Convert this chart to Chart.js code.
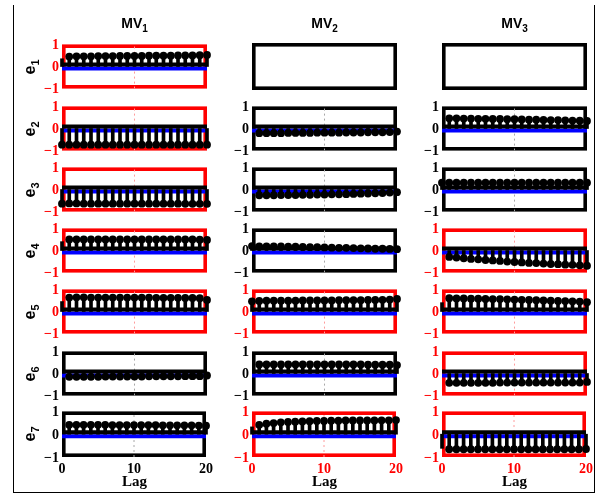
<!DOCTYPE html>
<html>
<head>
<meta charset="utf-8">
<script src="https://cdn.jsdelivr.net/npm/chart.js@4.4.0/dist/chart.umd.min.js"></script>
<style>
  body { margin: 0; background: #fff; }
  #fig { position: relative; width: 602px; height: 495px; overflow: hidden; background: #fff; }
  #fig canvas { position: absolute; }
  .frame { position: absolute; left: 13px; top: 5px; width: 580px; height: 487px;
           border: 1px solid #000; border-top: none; }
  .title { position: absolute; top: 15px; font: bold 14px 'Liberation Sans', Arial, sans-serif;
           transform: translateX(-50%); white-space: nowrap; }
  .title sub { font-size: 10px; }
  .rowlab sub { font-size: 11px; }
  .rowlab { position: absolute; font: bold 16px 'Liberation Sans', Arial, sans-serif;
            transform: translate(-50%, -50%) rotate(-90deg); white-space: nowrap; }
  .lag { position: absolute; top: 473px; font: bold 15px 'Liberation Serif', 'Times New Roman', serif;
         transform: translateX(-50%); }
</style>
</head>
<body>
<div id="fig"><div class="frame"></div></div>
<script>
// lags 1..20 of each cross-correlation series (rows e1..e7, columns MV1..MV3)
const lags = [1, 2, 3, 4, 5, 6, 7, 8, 9, 10, 11, 12, 13, 14, 15, 16, 17, 18, 19, 20];
const outputs = ['1', '2', '3', '4', '5', '6', '7'];
const inputs = ['1', '2', '3'];

const e1_mv1 = [0.45, 0.46, 0.46, 0.46, 0.47, 0.47, 0.47, 0.48, 0.48, 0.48, 0.48, 0.49, 0.49, 0.49, 0.49, 0.50, 0.50, 0.50, 0.51, 0.52];
const e2_mv1 = [-0.73, -0.73, -0.73, -0.73, -0.73, -0.73, -0.73, -0.73, -0.73, -0.73, -0.73, -0.73, -0.73, -0.73, -0.73, -0.73, -0.73, -0.73, -0.73, -0.73];
const e2_mv2 = [-0.21, -0.21, -0.21, -0.21, -0.20, -0.20, -0.20, -0.20, -0.19, -0.19, -0.19, -0.19, -0.18, -0.18, -0.18, -0.17, -0.17, -0.17, -0.16, -0.14];
const e2_mv3 = [0.46, 0.46, 0.45, 0.45, 0.44, 0.44, 0.43, 0.43, 0.42, 0.42, 0.41, 0.40, 0.40, 0.39, 0.38, 0.38, 0.37, 0.36, 0.35, 0.34];
const e3_mv1 = [-0.63, -0.63, -0.64, -0.64, -0.64, -0.64, -0.64, -0.64, -0.64, -0.64, -0.64, -0.64, -0.64, -0.64, -0.64, -0.64, -0.65, -0.65, -0.65, -0.65];
const e3_mv2 = [-0.26, -0.26, -0.26, -0.25, -0.25, -0.25, -0.24, -0.24, -0.23, -0.23, -0.22, -0.22, -0.21, -0.20, -0.19, -0.18, -0.17, -0.16, -0.14, -0.12];
const e3_mv3 = [0.31, 0.31, 0.31, 0.31, 0.31, 0.31, 0.31, 0.31, 0.31, 0.31, 0.31, 0.31, 0.31, 0.31, 0.31, 0.31, 0.31, 0.31, 0.31, 0.31];
const e4_mv1 = [0.50, 0.50, 0.50, 0.50, 0.50, 0.50, 0.50, 0.50, 0.50, 0.50, 0.50, 0.50, 0.50, 0.50, 0.50, 0.50, 0.50, 0.50, 0.49, 0.48];
const e4_mv2 = [0.19, 0.19, 0.18, 0.18, 0.17, 0.17, 0.16, 0.15, 0.15, 0.14, 0.13, 0.12, 0.12, 0.11, 0.10, 0.09, 0.08, 0.08, 0.07, 0.06];
const e4_mv3 = [-0.29, -0.32, -0.35, -0.38, -0.40, -0.43, -0.45, -0.47, -0.50, -0.52, -0.54, -0.56, -0.57, -0.59, -0.61, -0.62, -0.64, -0.65, -0.67, -0.69];
const e5_mv1 = [0.63, 0.64, 0.64, 0.63, 0.63, 0.63, 0.63, 0.63, 0.63, 0.63, 0.63, 0.63, 0.62, 0.62, 0.62, 0.62, 0.61, 0.61, 0.60, 0.52];
const e5_mv2 = [0.48, 0.49, 0.49, 0.49, 0.49, 0.49, 0.50, 0.50, 0.50, 0.50, 0.50, 0.51, 0.51, 0.51, 0.51, 0.52, 0.52, 0.53, 0.54, 0.57];
const e5_mv3 = [0.60, 0.59, 0.59, 0.58, 0.58, 0.57, 0.56, 0.56, 0.55, 0.54, 0.53, 0.52, 0.51, 0.50, 0.49, 0.48, 0.47, 0.46, 0.45, 0.42];
const e6_mv1 = [-0.15, -0.15, -0.15, -0.15, -0.15, -0.14, -0.14, -0.14, -0.14, -0.14, -0.14, -0.13, -0.13, -0.13, -0.13, -0.13, -0.12, -0.12, -0.12, -0.09];
const e6_mv2 = [0.41, 0.41, 0.41, 0.41, 0.41, 0.41, 0.41, 0.41, 0.41, 0.41, 0.41, 0.41, 0.41, 0.41, 0.41, 0.40, 0.40, 0.40, 0.40, 0.38];
const e6_mv3 = [-0.42, -0.42, -0.42, -0.42, -0.42, -0.42, -0.42, -0.41, -0.41, -0.41, -0.41, -0.41, -0.41, -0.41, -0.41, -0.41, -0.41, -0.41, -0.41, -0.38];
const e7_mv1 = [0.41, 0.41, 0.41, 0.41, 0.41, 0.41, 0.40, 0.40, 0.40, 0.40, 0.40, 0.40, 0.40, 0.39, 0.39, 0.39, 0.39, 0.39, 0.38, 0.37];
const e7_mv2 = [0.41, 0.46, 0.49, 0.52, 0.54, 0.55, 0.56, 0.57, 0.58, 0.58, 0.59, 0.59, 0.60, 0.60, 0.60, 0.60, 0.60, 0.61, 0.61, 0.62];
const e7_mv3 = [-0.66, -0.66, -0.66, -0.66, -0.66, -0.66, -0.66, -0.66, -0.66, -0.66, -0.66, -0.66, -0.66, -0.66, -0.66, -0.66, -0.66, -0.66, -0.66, -0.65];

// lag 0 value (stem only) and whether its marker is drawn
const lagZeroStem = [
  [0.35, null, null],
  [-0.73, null, null],
  [-0.64, null, 0.31],
  [0.40, 0.20, null],
  [0.45, 0.46, 0.40],
  [null, null, null],
  [null, 0.32, -0.62]
];
const lagZeroMarked = [
  [false, false, false],
  [true, false, false],
  [true, false, true],
  [false, true, false],
  [false, true, false],
  [false, false, false],
  [false, false, false]
];

// 1 = significant (red axes)
const flagged = [
  [1, 0, 0],
  [1, 0, 0],
  [1, 0, 0],
  [1, 0, 1],
  [1, 1, 1],
  [0, 0, 1],
  [0, 1, 1]
];

const series = [
  [e1_mv1, null, null],
  [e2_mv1, e2_mv2, e2_mv3],
  [e3_mv1, e3_mv2, e3_mv3],
  [e4_mv1, e4_mv2, e4_mv3],
  [e5_mv1, e5_mv2, e5_mv3],
  [e6_mv1, e6_mv2, e6_mv3],
  [e7_mv1, e7_mv2, e7_mv3]
];

// --- layout ---
const colLeft = [62, 252, 442];
const rowTop = [43, 105, 166, 227, 288, 350, 410];
const PANEL_W = 145, PANEL_H = 47;
const GUTTER = 40, PAD = 10, XAXIS_H = 26;

const fig = document.getElementById('fig');
const tickFont = { family: "'Liberation Serif', 'Times New Roman', serif", weight: 'bold', size: 14 };

const boxPlugin = {
  id: 'box',
  beforeDatasetsDraw(chart, args, opts) {
    const { left, top, right, bottom } = chart.chartArea;
    const ctx = chart.ctx;
    const lw = 3.6;
    ctx.save();
    ctx.strokeStyle = opts.color;
    ctx.lineWidth = lw;
    ctx.strokeRect(left + lw / 2, top + lw / 2, right - left - lw, bottom - top - lw);
    ctx.restore();
  }
};

function fmtTick(v) {
  return v < 0 ? '\u2212' + Math.abs(v) : String(v);
}

function drawPanel(row, col) {
  const vals = series[row][col];
  const red = flagged[row][col] === 1;
  const bottomRow = row === rowTop.length - 1;
  const axisColor = red ? '#ff0000' : '#000000';
  const dotColor = red ? '#ff9c9c' : '#a8a8a8';

  const w = GUTTER + PANEL_W + PAD;
  const h = PAD + PANEL_H + (bottomRow ? XAXIS_H : PAD);
  const canvas = document.createElement('canvas');
  canvas.width = w;
  canvas.height = h;
  canvas.style.width = w + 'px';
  canvas.style.height = h + 'px';
  canvas.style.left = (colLeft[col] - GUTTER) + 'px';
  canvas.style.top = (rowTop[row] - PAD) + 'px';
  fig.appendChild(canvas);

  const datasets = [];
  if (vals) {
    const markers = lags.map((l, i) => ({ x: l, y: vals[i] }));
    const stems = lags.map((l, i) => ({ x: l, y: vals[i] }));
    const z = lagZeroStem[row][col];
    if (z !== null) {
      stems.unshift({ x: 0, y: z });
      if (lagZeroMarked[row][col]) markers.unshift({ x: 0, y: z });
    }
    datasets.push(
      { type: 'scatter', data: markers, pointRadius: 3.9, pointBackgroundColor: '#000',
        pointBorderColor: '#000', pointBorderWidth: 0, clip: false, order: 0 },
      { type: 'bar', data: stems, backgroundColor: '#000', barThickness: 3,
        clip: false, order: 1 },
      { type: 'line', data: [{ x: 0, y: 0.085 }, { x: 20, y: 0.085 }], borderColor: '#000',
        borderWidth: 4, pointRadius: 0, order: 2 },
      { type: 'line', data: [{ x: 0, y: -0.085 }, { x: 20, y: -0.085 }], borderColor: '#0000ff',
        borderWidth: 4, pointRadius: 0, order: 3 },
      { type: 'line', data: [{ x: 10, y: -1 }, { x: 10, y: 1 }], borderColor: dotColor,
        borderWidth: 1, borderDash: [2, 3], pointRadius: 0, order: 4 }
    );
  }

  new Chart(canvas, {
    type: 'scatter',
    data: { datasets },
    options: {
      responsive: false,
      animation: false,
      devicePixelRatio: 1,
      events: [],
      layout: { padding: { left: 0, right: PAD, top: PAD, bottom: bottomRow ? 0 : PAD } },
      plugins: {
        legend: { display: false },
        tooltip: { enabled: false },
        box: { color: vals ? axisColor : '#000' }
      },
      scales: {
        x: {
          type: 'linear', min: 0, max: 20, offset: false,
          display: bottomRow,
          grid: { display: false, drawTicks: false },
          border: { display: false },
          ticks: { stepSize: 10, maxRotation: 0, padding: 4, color: axisColor, font: tickFont },
          afterFit: s => { s.height = bottomRow ? XAXIS_H : 0; }
        },
        y: {
          min: -1, max: 1,
          grid: { display: false, drawTicks: false },
          border: { display: false },
          ticks: { stepSize: 1, display: !!vals, padding: 3, labelOffset: 1,
                   color: axisColor, font: tickFont, callback: fmtTick },
          afterFit: s => { s.width = GUTTER; }
        }
      }
    },
    plugins: [boxPlugin]
  });
}

for (let r = 0; r < rowTop.length; r++) {
  for (let c = 0; c < colLeft.length; c++) drawPanel(r, c);
}

// column titles, row labels and x-axis captions
colLeft.forEach((x, c) => {
  const t = document.createElement('div');
  t.className = 'title';
  t.style.left = (x + PANEL_W / 2) + 'px';
  t.innerHTML = 'MV<sub>' + inputs[c] + '</sub>';
  fig.appendChild(t);

  const lag = document.createElement('div');
  lag.className = 'lag';
  lag.style.left = (x + PANEL_W / 2) + 'px';
  lag.textContent = 'Lag';
  fig.appendChild(lag);
});

rowTop.forEach((y, r) => {
  const l = document.createElement('div');
  l.className = 'rowlab';
  l.style.left = '31px';
  l.style.top = (y + PANEL_H / 2) + 'px';
  l.innerHTML = 'e<sub>' + outputs[r] + '</sub>';
  fig.appendChild(l);
});
</script>
</body>
</html>
